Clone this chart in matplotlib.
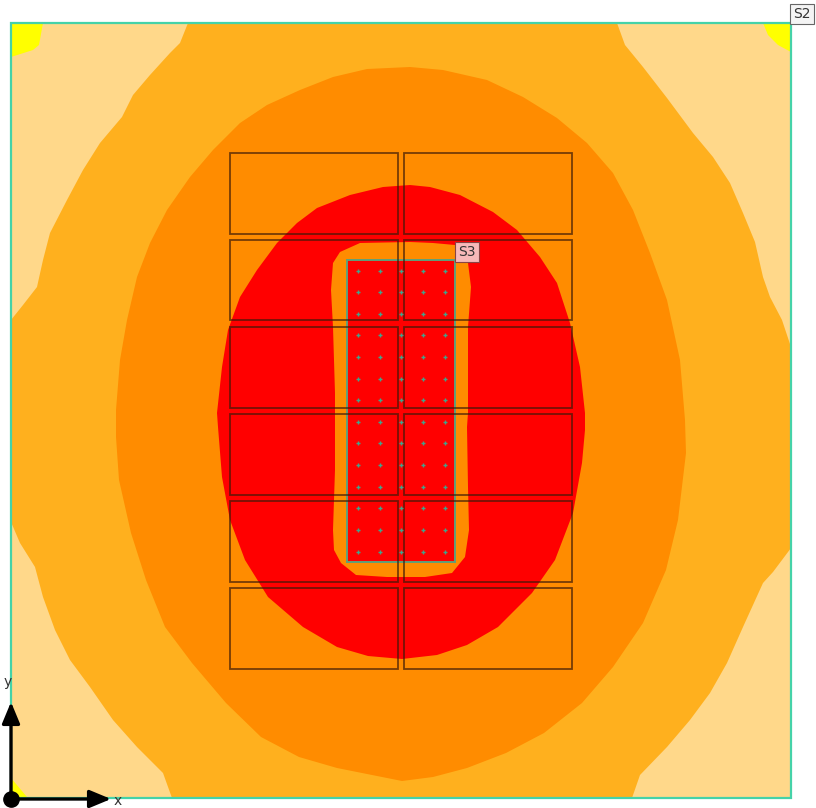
import matplotlib
matplotlib.use("Agg")
import matplotlib.pyplot as plt
from matplotlib.patches import Rectangle

# outlines of the contour bands (pixel units, y down)
domain_x = [11, 791]
domain_y = [23, 798]

band_orange = [(188, 23), (180, 43), (170, 53), (150, 75), (133, 95), (122, 117), (100, 143), (83, 170),
               (67, 200), (50, 233), (43, 260), (37, 287), (23, 305), (11, 320),
               (11, 522), (20, 543), (35, 567), (43, 597), (55, 630), (70, 660), (90, 687), (113, 720),
               (137, 747), (163, 773), (172, 798),
               (632, 798), (640, 775), (667, 747), (690, 720), (710, 693), (727, 663), (743, 627), (763, 583),
               (773, 572), (791, 548),
               (791, 347), (782, 320), (770, 297), (763, 277), (755, 242), (743, 213), (730, 183), (713, 157),
               (693, 133), (667, 98), (643, 67), (625, 45), (617, 23)]
band_dark = [(410, 67), (367, 69), (333, 77), (300, 90), (267, 105), (240, 123), (213, 150), (190, 177),
             (167, 210), (150, 243), (137, 277), (127, 320), (120, 360), (116, 410), (116, 437), (119, 480),
             (131, 533), (146, 580), (165, 627), (192, 663), (226, 703), (261, 737), (299, 757), (337, 768),
             (372, 775), (402, 781), (433, 777), (467, 768), (506, 753), (544, 733), (582, 703), (613, 667),
             (643, 623), (666, 570), (678, 520), (686, 453), (685, 420), (680, 360), (667, 300), (650, 253),
             (633, 210), (613, 173), (587, 143), (557, 118), (523, 97), (487, 80), (443, 70)]
band_red = [(410, 185), (383, 187), (350, 195), (317, 208), (297, 223), (277, 243), (257, 270), (240, 297),
            (228, 330), (222, 367), (217, 413), (218, 427), (222, 477), (230, 520), (245, 560), (268, 597),
            (303, 627), (337, 647), (368, 656), (402, 659), (437, 655), (467, 645), (498, 627), (532, 593),
            (555, 560), (573, 513), (582, 463), (585, 430), (585, 413), (580, 367), (570, 323), (557, 283),
            (540, 257), (517, 230), (493, 212), (460, 195), (430, 187)]
band_ring = [(410, 242), (360, 243), (340, 252), (333, 263), (331, 290), (333, 327), (335, 393), (335, 470),
             (333, 530), (334, 550), (341, 563), (356, 575), (387, 577), (425, 577), (452, 573), (465, 557),
             (469, 530), (468, 487), (467, 427), (468, 413), (468, 327), (471, 287), (468, 263), (455, 245),
             (433, 243)]

corner_tl = [(11, 23), (43, 23), (39, 45), (33, 50), (11, 57)]
corner_tr = [(763, 23), (791, 23), (791, 52), (778, 45), (768, 35)]
corner_bl = [(11, 778), (27, 797), (11, 798)]

# the two blocks of panels
panel_left = [230, 398]
panel_right = [404, 572]
panel_rows = [(153, 234), (240, 320), (327, 408), (414, 495), (501, 582), (588, 669)]

# S3 slab and its mesh points
s3_x = [347, 455]
s3_y = [260, 562]
mesh_x = [358, 380, 401, 423, 445]
mesh_y = [271, 292, 314, 335, 357, 379, 400, 422, 443, 465, 487, 508, 530, 552]

fig = plt.figure(figsize=(8.16, 8.08), dpi=100)
ax = fig.add_axes([0, 0, 1, 1])
ax.set_xlim(0, 816)
ax.set_ylim(808, 0)
ax.axis("off")

ax.add_patch(Rectangle((domain_x[0], domain_y[0]), domain_x[1] - domain_x[0], domain_y[1] - domain_y[0],
                       fc="#FFD88A", ec="none", zorder=1))
for c in [corner_tl, corner_tr, corner_bl]:
    ax.fill(*zip(*c), color="#FFFF00", lw=0, zorder=2)
ax.fill(*zip(*band_orange), color="#FFB01E", lw=0, zorder=3)
ax.fill(*zip(*band_dark), color="#FF8C00", lw=0, zorder=4)
ax.fill(*zip(*band_red), color="#FF0000", lw=0, zorder=5)
ax.fill(*zip(*band_ring), color="#FF8C00", lw=0, zorder=6)
ax.add_patch(Rectangle((s3_x[0], s3_y[0]), s3_x[1] - s3_x[0], s3_y[1] - s3_y[0],
                       fc="#FF0000", ec="#5FA07A", lw=1.4, zorder=7))

for top, bottom in panel_rows:
    for left, right in [panel_left, panel_right]:
        ax.add_patch(Rectangle((left, top), right - left, bottom - top, fc="none",
                               ec="#3A1A08", lw=1.3, alpha=0.7, zorder=8))

for y in mesh_y:
    ax.plot(mesh_x, [y] * len(mesh_x), ls="none", marker="+", ms=3.5, mew=1, color="#3FA58C", zorder=9)

ax.add_patch(Rectangle((domain_x[0], domain_y[0]), domain_x[1] - domain_x[0], domain_y[1] - domain_y[0],
                       fc="none", ec="#45D2A8", lw=1.6, zorder=10))

ax.text(802, 14, "S2", fontsize=10, color="#333333", ha="center", va="center", zorder=12,
        bbox=dict(boxstyle="square,pad=0.2", fc="#F4F4F4", ec="#666666", lw=0.8))
ax.text(467, 252, "S3", fontsize=10, color="#333333", ha="center", va="center", zorder=12,
        bbox=dict(boxstyle="square,pad=0.2", fc="#F7B9B9", ec="#884444", lw=0.8))

# coordinate triad in the lower left corner
ax.annotate("", xy=(111, 799), xytext=(11, 799), zorder=13, annotation_clip=False,
            arrowprops=dict(arrowstyle="-|>,head_length=1.3,head_width=0.54", color="black", lw=2.4,
                            shrinkA=0, shrinkB=0))
ax.annotate("", xy=(11, 702), xytext=(11, 799), zorder=13, annotation_clip=False,
            arrowprops=dict(arrowstyle="-|>,head_length=1.3,head_width=0.54", color="black", lw=2.4,
                            shrinkA=0, shrinkB=0))
ax.plot([11], [799], marker="o", ms=11, color="black", zorder=14, clip_on=False)
ax.text(118, 801, "x", fontsize=10, color="#333333", ha="center", va="center", zorder=13)
ax.text(8, 682, "y", fontsize=10, color="#333333", ha="center", va="center", zorder=13)

fig.savefig("out.png", dpi=100)
